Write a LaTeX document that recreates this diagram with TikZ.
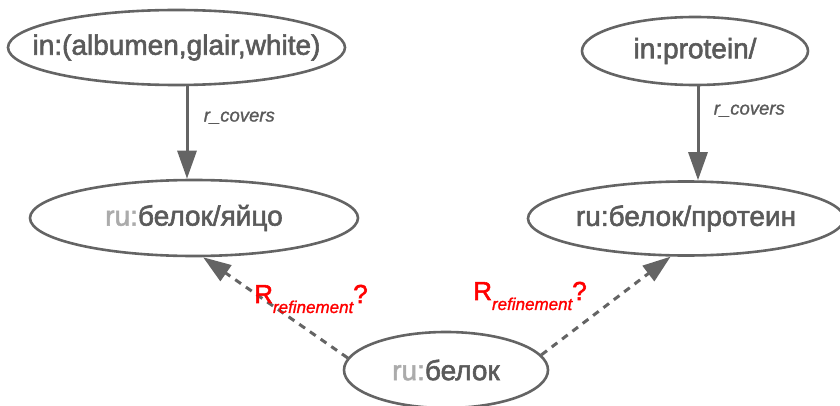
\documentclass[tikz,border=0pt]{standalone}
\usepackage{fontspec}
\setmainfont{Liberation Sans}[FakeBold=1.2]
\newfontfamily\termfont{Liberation Sans}[FakeBold=2]
\usetikzlibrary{shapes.geometric,arrows.meta}

\definecolor{edgegray}{HTML}{646464}
\definecolor{termgray}{HTML}{5A5A5A}
\definecolor{prefixgray}{HTML}{ABABAB}

% R_refinement? with its subscript dropped under the line
\newcommand{\refinement}{{\termfont\fontsize{26}{30}\selectfont R}\raisebox{-10pt}{\fontsize{17}{20}\selectfont\itshape refinement}{\termfont\fontsize{26}{30}\selectfont ?}}
\newcommand{\ru}{{\color{prefixgray}ru:}}

\begin{document}
\begin{tikzpicture}[
    x = 1pt, y = 1pt,
    term/.style = {ellipse, draw = edgegray, line width = 2.6pt, inner sep = 0pt},
    every label/.style = {font = \termfont\fontsize{28}{32}\selectfont, text = termgray},
    covers/.style = {draw = edgegray, line width = 3pt, -{Triangle[length=28pt, width=19pt]}},
    maybe/.style = {draw = edgegray, line width = 3pt, dash pattern = on 7pt off 6pt,
                     -{Triangle[length=28pt, width=19pt]}},
    rel/.style = {font = \itshape\fontsize{18.5}{22}\selectfont, text = termgray},
    guess/.style = {text = red, inner sep = 0pt}]

\useasboundingbox (0,0) rectangle (840,405);

% interlingua terms
\node[term, minimum width = 337pt, minimum height = 75pt,
      label = {center:{in:(albumen,glair,white)}}] (albumen) at (176.5,357.5) {};
\node[term, minimum width = 226pt, minimum height = 68pt,
      label = {center:{in:protein/}}] (protein) at (695,354) {};

% russian senses
\node[term, minimum width = 328pt, minimum height = 76pt,
      label = {center:{\ru белок/яйцо}}] (egg) at (194,187) {};
\node[term, minimum width = 316pt, minimum height = 74pt,
      label = {center:{ru:белок/протеин}}] (prot) at (686,186.5) {};
\node[term, minimum width = 204pt, minimum height = 76pt,
      label = {center:{\ru белок}}] (belok) at (446,35) {};

\draw[covers] ([xshift=10.5pt]albumen.south) to
    node[rel, pos = 0.34, right = 12pt] (covers-egg) {r\_covers}
    ([xshift=-7pt]egg.north);
\draw[covers] ([xshift=3pt]protein.south) to
    node[rel, pos = 0.26, right = 11pt] (covers-prot) {r\_covers}
    ([xshift=12pt]prot.north);

\draw[maybe] (belok.173) to (egg.283);
\draw[maybe] (belok.9) to (prot.248);

\path (311,106) node[guess] (guess-egg) {\refinement}
      (530,109) node[guess] (guess-prot) {\refinement};
\end{tikzpicture}
\end{document}
